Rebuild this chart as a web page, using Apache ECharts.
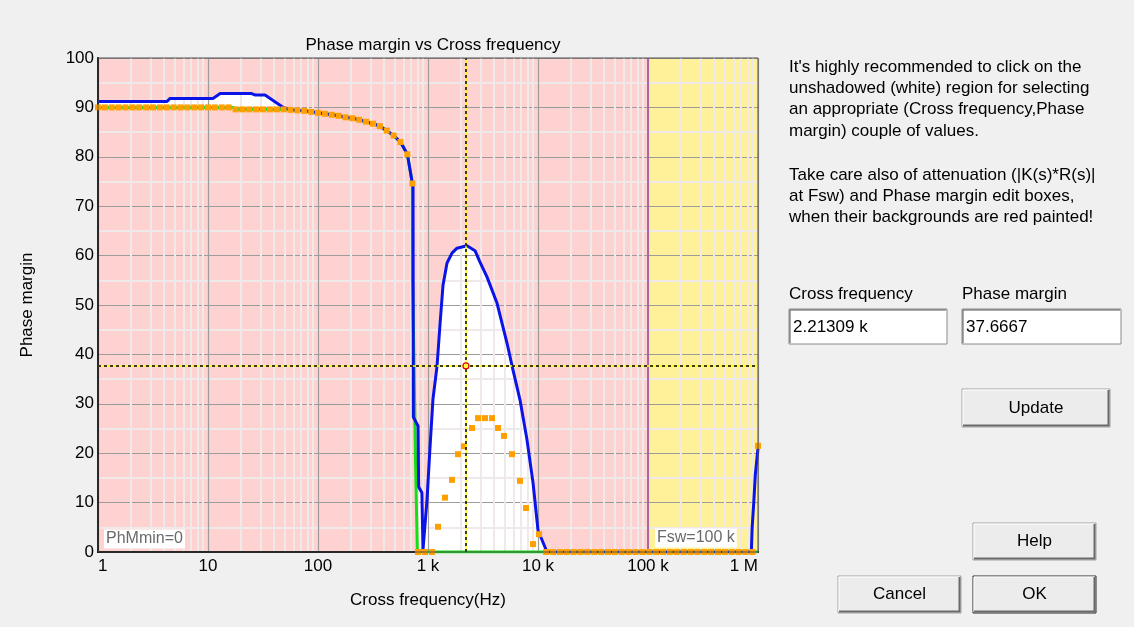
<!DOCTYPE html>
<html>
<head>
<meta charset="utf-8">
<script src="https://cdn.jsdelivr.net/npm/echarts@6/dist/echarts.min.js"></script>
<style>
html,body{margin:0;padding:0;background:#f0f0f0;}
#chart{width:1134px;height:627px;}
</style>
</head>
<body>
<div id="chart"></div>
<script>
// ---------------- DATA ----------------
const xTickLabels = ['1', '10', '100', '1 k', '10 k', '100 k', '1 M'];
const yTicks = [0, 10, 20, 30, 40, 50, 60, 70, 80, 90, 100];

// blue: phase margin curve
const blueFreq = [1, 4.24, 4.5, 11.1, 12.9, 24.9, 27, 33, 48.4, 56.23, 64.94, 74.99, 86.6,
  100, 115.5, 133.4, 154, 177.8, 205.4, 237.1, 273.8, 316.2, 365.2, 421.7, 487, 562.3, 649.4, 721,
  731, 736, 812, 822, 880, 900, 930, 979, 1042, 1110, 1208, 1285, 1369, 1489, 1652, 1835, 2263,
  2675, 2970, 3436, 4238, 5227, 5929, 6859, 7943, 9014, 10000, 12070, 870000, 885000, 915000,
  945000, 1000000];
const blueVal = [91.2, 91.2, 91.8, 91.8, 92.8, 92.8, 92.5, 92.5, 90.0, 89.5, 89.4, 89.3, 89.1,
  88.9, 88.7, 88.5, 88.3, 88.0, 87.8, 87.5, 87.1, 86.7, 86.2, 85.3, 84.3, 83.0, 80.5, 74.6,
  74.0, 27.3, 25.5, 13.2, 12.0, 0.4, 0.4, 10.5, 21, 31, 37.6, 46, 54, 58.5, 60.5, 61.5, 62,
  61, 58.7, 55.7, 50.4, 42.3, 36.8, 30.8, 22.7, 14, 4.4, 0, 0, 5, 10,
  15.6, 21];

// green: lower boundary curve
const greenFreq = [1, 17, 17.78, 48.7, 56.23, 64.94, 74.99, 86.6, 100, 115.5, 133.4, 154, 177.8,
  205.4, 237.1, 273.8, 316.2, 365.2, 421.7, 487, 562.3, 649.4, 721, 722, 745, 770, 800, 1000000];
const greenVal = [90, 90, 89.6, 89.6, 89.5, 89.4, 89.3, 89.1, 88.9, 88.7, 88.5, 88.3, 88.0,
  87.8, 87.5, 87.1, 86.7, 86.2, 85.3, 84.3, 83.0, 80.5, 74.6, 56, 39, 18.6, 0, 0];

// orange: sampled points
const orangeFreq = [
  1, 1.155, 1.334, 1.54, 1.778, 2.054, 2.371, 2.738, 3.162, 3.652, 4.217, 4.87, 5.623, 6.494, 7.499, 8.66,
  10, 11.55, 13.34, 15.4, 17.78, 20.54, 23.71, 27.38, 31.62, 36.52, 42.17, 48.7, 56.23, 64.94, 74.99, 86.6,
  100, 115.5, 133.4, 154, 177.8, 205.4, 237.1, 273.8, 316.2, 365.2, 421.7, 487, 562.3, 649.4, 721,
  811, 939, 1087, 1233, 1428, 1652, 1874, 2125, 2512, 2851, 3297, 3818, 4329, 4909, 5803, 6859, 7785, 9014, 10210,
  11860, 13690, 15810, 18260, 21090, 24350, 28120, 32470, 37500, 43300, 50000, 57740, 66680, 77000, 88910,
  102700, 118600, 136900, 158100, 182600, 210900, 243500, 281200, 324700, 375000, 433000, 500000, 577400,
  666800, 770000, 889100, 1000000];
const orangeVal = [
  90, 90, 90, 90, 90, 90, 90, 90, 90, 90, 90, 90, 90, 90, 90, 90,
  90, 90, 90, 90, 89.6, 89.6, 89.6, 89.6, 89.6, 89.6, 89.6, 89.6, 89.5, 89.4, 89.3, 89.1,
  88.9, 88.7, 88.5, 88.3, 88.0, 87.8, 87.5, 87.1, 86.7, 86.2, 85.3, 84.3, 83.0, 80.5, 74.6,
  0, 0, 0, 5.1, 11, 14.6, 19.8, 21.4, 25.1, 27.1, 27.1, 27.1, 25.1, 23.5, 19.8, 14.4, 8.9, 1.6, 3.6,
  0, 0, 0, 0, 0, 0, 0, 0, 0, 0, 0, 0, 0, 0, 0,
  0, 0, 0, 0, 0, 0, 0, 0, 0, 0, 0, 0, 0,
  0, 0, 0, 21.5];

// minor x grid positions (2..9 within each decade)
const xMinor = [2, 3, 4, 5, 6, 7, 8, 9, 20, 30, 40, 50, 60, 70, 80, 90,
  200, 300, 400, 500, 600, 700, 800, 900, 2000, 3000, 4000, 5000, 6000, 7000, 8000, 9000,
  20000, 30000, 40000, 50000, 60000, 70000, 80000, 90000,
  200000, 300000, 400000, 500000, 600000, 700000, 800000, 900000];

const fsw = 100000;
const xMax = 1000000;
const crossFreq = 2213.09;
const phaseMargin = 37.6667;

const infoLines1 = ["It's highly recommended to click on the", "unshadowed (white) region for selecting",
  "an appropriate (Cross frequency,Phase", "margin) couple of values."];
const infoLines2 = ["Take care also of attenuation (|K(s)*R(s)|", "at Fsw) and Phase margin edit boxes,",
  "when their backgrounds are red painted!"];

// ---------------- CHART ----------------
const FONT = 'Liberation Sans, Arial, sans-serif';
const FS = 17;
const zip = (a, b) => a.map((v, i) => [v, b[i]]);
const blue = zip(blueFreq, blueVal);
const green = zip(greenFreq, greenVal);
const orange = zip(orangeFreq, orangeVal);

const G = {left: 98, top: 58, width: 660, height: 494};
const MINOR = '#efe9e9';

function button(x, y, w, h, label, isDefault) {
  return [
    {type: 'rect', shape: {x: x, y: y, width: w, height: h}, style: {fill: '#ececec', stroke: isDefault ? '#2a2a2a' : '#a0a0a0', lineWidth: 1}},
    {type: 'polyline', shape: {points: [[x + 1, y + h - 1], [x + 1, y + 1], [x + w - 1, y + 1]]}, style: {stroke: '#ffffff', lineWidth: 1, fill: null}},
    {type: 'polyline', shape: {points: [[x + 1, y + h - 1.5], [x + w - 1.5, y + h - 1.5], [x + w - 1.5, y + 1]]}, style: {stroke: '#6a6a6a', lineWidth: 2, fill: null}},
    {type: 'text', x: x + w / 2, y: y + h / 2, style: {text: label, fill: '#000', font: FS + 'px ' + FONT, textAlign: 'center', textVerticalAlign: 'middle'}}
  ];
}
function editBox(x, y, w, h, val) {
  return [
    {type: 'rect', shape: {x: x, y: y, width: w, height: h}, style: {fill: '#ffffff', stroke: '#8a8a8a', lineWidth: 1}},
    {type: 'polyline', shape: {points: [[x + 1, y + h - 1], [x + 1, y + 1], [x + w - 1, y + 1]]}, style: {stroke: '#555', lineWidth: 1, fill: null}},
    {type: 'text', x: x + 4, y: y + h / 2 + 1, style: {text: val, fill: '#000', font: FS + 'px ' + FONT, textVerticalAlign: 'middle'}}
  ];
}

const graphics = [];
infoLines1.forEach((t, i) => graphics.push({type: 'text', x: 789, y: 67 + i * 21.4, style: {text: t, fill: '#000', font: FS + 'px ' + FONT, textVerticalAlign: 'middle'}}));
infoLines2.forEach((t, i) => graphics.push({type: 'text', x: 789, y: 175 + i * 21.4, style: {text: t, fill: '#000', font: FS + 'px ' + FONT, textVerticalAlign: 'middle'}}));
graphics.push({type: 'text', x: 789, y: 294, style: {text: 'Cross frequency', fill: '#000', font: FS + 'px ' + FONT, textVerticalAlign: 'middle'}});
graphics.push({type: 'text', x: 962, y: 294, style: {text: 'Phase margin', fill: '#000', font: FS + 'px ' + FONT, textVerticalAlign: 'middle'}});
graphics.push(...editBox(789, 309, 158, 35, '2.21309 k'));
graphics.push(...editBox(962, 309, 159, 35, String(phaseMargin)));
graphics.push(...button(962, 389, 148, 38, 'Update', false));
graphics.push(...button(973, 523, 123, 37, 'Help', false));
graphics.push(...button(838, 576, 123, 37, 'Cancel', false));
graphics.push(...button(973, 576, 123, 37, 'OK', true));
// plot frame top/right
graphics.push({type: 'rect', z: 20, shape: {x: G.left, y: G.top, width: G.width, height: G.height}, style: {fill: null, stroke: '#505050', lineWidth: 1}});
// in-plot labels
graphics.push({type: 'text', z: 20, x: 104, y: 539, style: {text: 'PhMmin=0', fill: '#6a6a6a', font: '16px ' + FONT, textVerticalAlign: 'middle', backgroundColor: '#ffffff', padding: [2, 2, 1, 2]}});
graphics.push({type: 'text', z: 20, x: 655, y: 538, style: {text: 'Fsw=100 k', fill: '#6a6a6a', font: '16px ' + FONT, textVerticalAlign: 'middle', backgroundColor: '#ffffff', padding: [2, 2, 1, 2]}});

const chart = echarts.init(document.getElementById('chart'), null, {renderer: 'canvas'});
chart.setOption({
  backgroundColor: '#f0f0f0',
  animation: false,
  title: {
    text: 'Phase margin vs Cross frequency', left: 428, top: 32, textAlign: 'center',
    textStyle: {fontFamily: FONT, fontSize: FS, fontWeight: 'normal', color: '#000'}
  },
  grid: {left: G.left, top: G.top, width: G.width, height: G.height, show: true, backgroundColor: '#ffffff', borderWidth: 0},
  xAxis: {
    type: 'log', logBase: 10, min: 1, max: xMax, z: 3,
    name: 'Cross frequency(Hz)', nameLocation: 'middle', nameGap: 40,
    nameTextStyle: {fontFamily: FONT, fontSize: FS, color: '#000'},
    axisLine: {show: true, onZero: false, lineStyle: {color: '#000', width: 2}},
    axisTick: {show: false},
    axisLabel: {
      fontFamily: FONT, fontSize: FS, color: '#000', margin: 6,
      alignMinLabel: 'left', alignMaxLabel: 'right',
      formatter: v => xTickLabels[Math.round(Math.log10(v))]
    },
    splitLine: {show: true, lineStyle: {color: '#9c9c9c', width: 1.2}},
    minorTick: {show: false}, minorSplitLine: {show: false}
  },
  yAxis: {
    type: 'value', min: 0, max: 100, interval: 10, z: 3,
    name: 'Phase margin', nameLocation: 'middle', nameGap: 62,
    nameTextStyle: {fontFamily: FONT, fontSize: FS, color: '#000'},
    axisLine: {show: true, lineStyle: {color: '#000', width: 2}},
    axisTick: {show: false},
    axisLabel: {fontFamily: FONT, fontSize: FS, color: '#000', margin: 4, formatter: v => yTicks.includes(v) ? String(v) : ''},
    splitLine: {show: true, lineStyle: {color: '#9c9c9c', width: 1.2}},
    minorTick: {show: false, splitNumber: 2},
    minorSplitLine: {show: true, lineStyle: {color: MINOR, width: 2}}
  },
  series: [
    { // pink above blue
      name: 'shadeAbove', type: 'line', data: blue, z: 1, silent: true, showSymbol: false,
      lineStyle: {width: 0}, areaStyle: {color: '#ffd2d2', opacity: 1, origin: 'end'}
    },
    { // pink below green
      name: 'shadeBelow', type: 'line', data: green, z: 1, silent: true, showSymbol: false,
      lineStyle: {width: 0}, areaStyle: {color: '#ffd2d2', opacity: 1, origin: 'start'}
    },
    { // yellow region beyond Fsw + minor grid lines
      name: 'fsw', type: 'line', data: [[fsw, 0]], z: 3, silent: true, showSymbol: false, lineStyle: {width: 0},
      markArea: {silent: true, z: 2, itemStyle: {color: '#fff09a'}, data: [[{xAxis: fsw}, {xAxis: xMax}]]},
      markLine: {silent: true, z: 3, symbol: 'none', label: {show: false}, animation: false,
        lineStyle: {color: MINOR, width: 2, type: 'solid'},
        data: xMinor.map(v => ({xAxis: v}))}
    },
    {
      name: 'fswLine', type: 'line', data: [[fsw, 0]], z: 4, silent: true, showSymbol: false, lineStyle: {width: 0},
      markLine: {silent: true, z: 4, symbol: 'none', label: {show: false}, lineStyle: {color: '#a868a8', width: 2, type: 'solid'}, data: [{xAxis: fsw}]}
    },
    {name: 'green', type: 'line', data: green, z: 6, showSymbol: false, lineStyle: {color: '#12e012', width: 3}},
    {name: 'blue', type: 'line', data: blue, z: 7, showSymbol: false, lineStyle: {color: '#0a14e6', width: 3}},
    {name: 'orange', type: 'scatter', data: orange, z: 8, symbol: 'rect', symbolSize: 6, itemStyle: {color: '#ffa000', opacity: 1}},
    {
      name: 'crossY', type: 'line', data: [[crossFreq, phaseMargin]], z: 9, showSymbol: false, lineStyle: {width: 0},
      markLine: {silent: true, z: 9, symbol: 'none', label: {show: false}, lineStyle: {color: '#ffff00', width: 1.5, type: 'solid'},
        data: [{xAxis: crossFreq}, {yAxis: phaseMargin}]}
    },
    {
      name: 'crossK', type: 'line', data: [[crossFreq, phaseMargin]], z: 10, showSymbol: false, lineStyle: {width: 0},
      markLine: {silent: true, z: 10, symbol: 'none', label: {show: false}, lineStyle: {color: '#000', width: 1.5, type: [3, 3]},
        data: [{xAxis: crossFreq}, {yAxis: phaseMargin}]}
    },
    {name: 'sel', type: 'scatter', data: [[crossFreq, phaseMargin]], z: 11, symbol: 'circle', symbolSize: 6,
      itemStyle: {color: '#ffff40', borderColor: '#e00000', borderWidth: 1.2, opacity: 1}}
  ],
  graphic: graphics
});
</script>
</body>
</html>
